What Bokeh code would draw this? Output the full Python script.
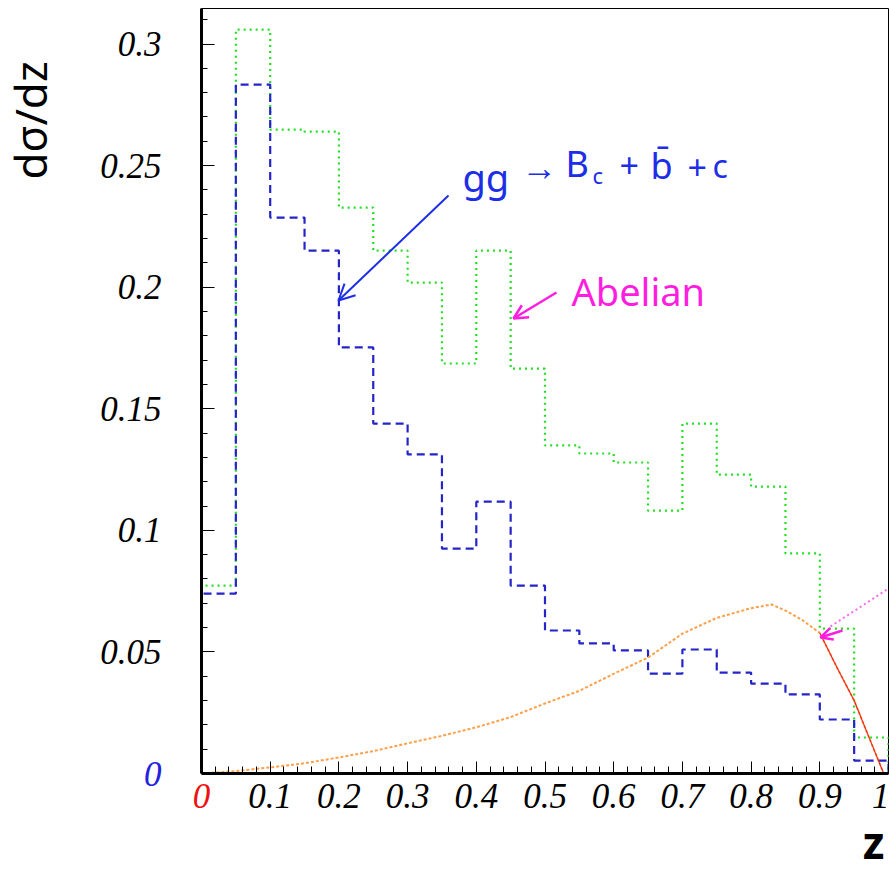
import numpy as np
from bokeh.plotting import figure
from bokeh.models import Range1d, Label, Arrow, OpenHead, FixedTicker
from bokeh.embed import file_html
from bokeh.resources import INLINE

# ---- data ----
z_edges = [0.0, 0.05, 0.10, 0.15, 0.20, 0.25, 0.30, 0.35, 0.40, 0.45, 0.50,
           0.55, 0.60, 0.65, 0.70, 0.75, 0.80, 0.85, 0.90, 0.95, 1.0]
abelian = [0.0773, 0.3059, 0.2648, 0.2640, 0.2327, 0.2150, 0.2019, 0.1686, 0.2150, 0.1665,
           0.1349, 0.1316, 0.1279, 0.1081, 0.1439, 0.1229, 0.1180, 0.0905, 0.0596, 0.0148]
gg_bbc = [0.0740, 0.2833, 0.2286, 0.2150, 0.1752, 0.1439, 0.1312, 0.0925, 0.1118, 0.0773,
          0.0588, 0.0535, 0.0506, 0.0411, 0.0510, 0.0415, 0.0370, 0.0325, 0.0222, 0.0053]
z_curve = [0.0, 0.05, 0.10, 0.15, 0.20, 0.25, 0.30, 0.35, 0.40, 0.45, 0.50, 0.55, 0.60,
           0.65, 0.70, 0.75, 0.80, 0.83, 0.85, 0.875, 0.90, 0.925, 0.95, 0.975, 0.993]
frag_curve = [0.0, 0.0010, 0.0025, 0.0042, 0.0066, 0.0092, 0.0124, 0.0155, 0.0190, 0.0232,
              0.0288, 0.0340, 0.0410, 0.0477, 0.0575, 0.0640, 0.0680, 0.0695, 0.0670, 0.0630,
              0.0578, 0.0436, 0.0300, 0.0125, 0.0]
x_ticks = [0, 0.1, 0.2, 0.3, 0.4, 0.5, 0.6, 0.7, 0.8, 0.9, 1.0]
y_ticks = [0, 0.05, 0.1, 0.15, 0.2, 0.25, 0.3]

X0, X1 = 0.0, 1.0
Y0, Y1 = 0.0, 0.3146

p = figure(frame_width=687, frame_height=765, min_border_left=201, min_border_right=1,
           min_border_top=8, min_border_bottom=96,
           x_range=Range1d(X0, X1), y_range=Range1d(Y0, Y1),
           output_backend="svg", toolbar_location=None)
p.grid.visible = False
p.background_fill_color = "white"
p.border_fill_color = "white"
p.outline_line_color = "black"
p.outline_line_width = 1


def hist_outline(edges, vals):
    e = np.asarray(edges)
    v = np.asarray(vals)
    xs = np.repeat(e, 2)
    ys = np.concatenate([[0.0], np.repeat(v, 2), [0.0]])
    return xs, ys


gx, gy = hist_outline(z_edges, abelian)
bx, by = hist_outline(z_edges, gg_bbc)

p.line(gx, gy, line_color="#22e022", line_width=2.2, line_dash="2 4")
p.line(bx, by, line_color="#2424c8", line_width=2.2, line_dash="8 5")

zc = np.asarray(z_curve)
fc = np.asarray(frag_curve)
p.line(zc, fc, line_color="#ffa04a", line_width=2, line_dash="3 2")
m = zc >= 0.9
p.line(zc[m], fc[m], line_color="#ee2a1a", line_width=1.2)

# ---- axes ----
xa = p.xaxis[0]
xa.ticker = FixedTicker(ticks=x_ticks,
                        minor_ticks=[round(0.02 * i, 3) for i in range(51)])
xa.major_label_overrides = {0: ""}
xa.axis_line_width = 3
xa.major_tick_in = 12
xa.major_tick_out = 0
xa.minor_tick_in = 7
xa.minor_tick_out = 0
xa.major_label_standoff = 10
xa.major_label_text_font = "Liberation Serif"
xa.major_label_text_font_style = "italic"
xa.major_label_text_font_size = "35px"
xa.major_label_text_color = "black"

ya = p.yaxis[0]
ya.ticker = FixedTicker(ticks=y_ticks,
                        minor_ticks=[round(0.01 * i, 3) for i in range(32)])
ya.major_label_overrides = {0: ""}
ya.axis_line_width = 3
ya.major_tick_in = 13
ya.major_tick_out = 0
ya.minor_tick_in = 6
ya.minor_tick_out = 0
ya.major_label_standoff = 40
ya.major_label_text_font = "Liberation Serif"
ya.major_label_text_font_style = "italic"
ya.major_label_text_font_size = "35px"
ya.major_label_text_color = "black"


def dx(px):
    return X0 + (px - 201) / 687 * (X1 - X0)


def dy(py):
    return Y0 + (773 - py) / 765 * (Y1 - Y0)


# texts outside the frame (placed in side panels so they are not clipped)
left_texts = [
    Label(x=dx(201), y=dy(783), text="0", text_align="center", text_baseline="top",
          text_font="Liberation Serif", text_font_style="italic",
          text_font_size="35px", text_color="#ee1111"),
    Label(x=dx(161), y=dy(773), text="0", text_align="right", text_baseline="middle",
          text_font="Liberation Serif", text_font_style="italic",
          text_font_size="35px", text_color="#2222dd"),
    Label(x=dx(873), y=dy(841), text="z", text_align="center",
          text_baseline="alphabetic", text_font="Noto Sans", text_font_style="bold",
          text_font_size="44px", text_color="black"),
]
for lab in left_texts:
    p.add_layout(lab, "left")
p.add_layout(Label(x=dx(29), y=dy(120), text="dσ/dz", angle=np.pi / 2, text_align="center",
                   text_baseline="alphabetic", text_font="Noto Sans", text_font_size="44px",
                   text_color="black"), "below")

# hand-written annotations
blue = "#1c2ee6"
mag = "#ff1ee0"
hand = "Noto Sans"
for txt, px, py, size in [("gg", 462, 176, "38px"), ("→", 521, 166, "36px"),
                          ("B", 565, 163, "36px"), ("c", 592, 174, "22px"),
                          ("+", 619, 165, "34px"), ("b̄", 650, 165, "36px"),
                          ("+", 687, 167, "34px"), ("c", 712, 165, "32px")]:
    p.add_layout(Label(x=dx(px), y=dy(py), text=txt, text_align="left",
                       text_baseline="alphabetic", text_font=hand, text_font_size=size,
                       text_color=blue))
p.add_layout(Arrow(x_start=dx(448), y_start=dy(195), x_end=dx(338), y_end=dy(300),
                   line_color=blue, line_width=2,
                   end=OpenHead(size=16, line_color=blue, line_width=2)))

p.add_layout(Label(x=dx(571), y=dy(290), text="Abelian", text_align="left",
                   text_baseline="alphabetic", text_font=hand, text_font_size="38px",
                   text_color=mag))
p.add_layout(Arrow(x_start=dx(556), y_start=dy(292), x_end=dx(513), y_end=dy(318),
                   line_color=mag, line_width=2.5,
                   end=OpenHead(size=14, line_color=mag, line_width=2.5)))

p.add_layout(Arrow(x_start=dx(842), y_start=dy(630), x_end=dx(820), y_end=dy(637),
                   line_color=mag, line_width=2.5,
                   end=OpenHead(size=12, line_color=mag, line_width=2.5)))
p.line([dx(830), dx(888)], [dy(626), dy(588)], line_color="#ff66ee", line_width=2,
       line_dash="2 3")

open("out.html", "w").write(file_html(p, INLINE))
